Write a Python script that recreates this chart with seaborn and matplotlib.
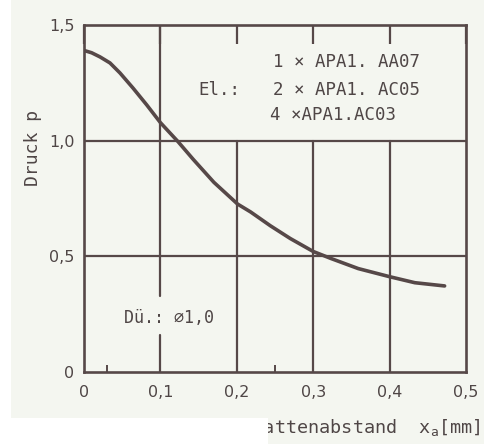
import matplotlib
matplotlib.use("Agg")
import matplotlib.pyplot as plt
import seaborn as sns
import pandas as pd
from matplotlib.patches import Rectangle

# Data
abstand = [0.0, 0.01, 0.021, 0.034, 0.047, 0.064, 0.082, 0.1, 0.123, 0.143, 0.170,
           0.201, 0.218, 0.244, 0.270, 0.3, 0.323, 0.359, 0.4, 0.433, 0.472]
druck = [1.39, 1.38, 1.362, 1.336, 1.293, 1.228, 1.155, 1.078, 0.996, 0.919, 0.820,
         0.726, 0.692, 0.632, 0.577, 0.521, 0.491, 0.447, 0.412, 0.386, 0.372]
x_ticks = [0, 0.1, 0.2, 0.3, 0.4, 0.5]
x_ticklabels = ["0", "0,1", "0,2", "0,3", "0,4", "0,5"]
y_ticks = [0, 0.5, 1.0, 1.5]
y_ticklabels = ["0", "0,5", "1,0", "1,5"]

sns.set_theme(style="ticks")
plt.rcParams['font.family'] = ['DejaVu Sans']
mono = ['DejaVu Sans Mono', 'DejaVu Sans']

bg = "#f4f6f0"
ink = "#564848"
txt = "#4f4646"

fig = plt.figure(figsize=(4.85, 4.44), dpi=100, facecolor=bg)
ax = fig.add_axes([84/485, 1-372/444, 382/485, 347/444])
ax.set_facecolor(bg)

df = pd.DataFrame({"x": abstand, "p": druck})
sns.lineplot(data=df, x="x", y="p", ax=ax, color=ink, lw=2.6, zorder=4)

ax.set_xlim(0, 0.5)
ax.set_ylim(0, 1.5)
ax.set_xticks(x_ticks)
ax.set_xticklabels(x_ticklabels)
ax.set_yticks(y_ticks)
ax.set_yticklabels(y_ticklabels)
ax.set_xticks([0.03, 0.25], minor=True)
ax.tick_params(axis="x", which="major", top=True, bottom=False, direction="in",
               length=14, width=1.6, color=ink, labelsize=11.5, labelcolor=txt, pad=9)
ax.tick_params(axis="x", which="minor", bottom=True, direction="in", length=5, width=1.4, color=ink)
ax.tick_params(axis="y", which="major", left=False, length=0, labelsize=11.5, labelcolor=txt, pad=7)

for s in ax.spines.values():
    s.set_color(ink)
    s.set_linewidth(1.9)

# grid
for yv in [0.5, 1.0]:
    ax.axhline(yv, color=ink, lw=1.6, zorder=2)
ax.axvline(0.1, ymin=0, ymax=0.16/1.5, color=ink, lw=1.6, zorder=2)
ax.axvline(0.1, ymin=0.33/1.5, ymax=1, color=ink, lw=1.6, zorder=2)
for xv in [0.2, 0.3, 0.4]:
    ax.axvline(xv, ymin=0, ymax=1.0/1.5, color=ink, lw=1.6, zorder=2)

ax.set_xlabel("")
ax.set_ylabel("Druck p", fontsize=13, color=txt, family=mono)
ax.yaxis.set_label_coords(-0.11, 0.645)

fs = 12.5
ax.text(0.247, 1.34, "1 × APA1. AA07", fontsize=fs, color=txt, va="center", ha="left", family=mono)
ax.text(0.15, 1.22, "El.:", fontsize=fs, color=txt, va="center", ha="left", family=mono)
ax.text(0.247, 1.22, "2 × APA1. AC05", fontsize=fs, color=txt, va="center", ha="left", family=mono)
ax.text(0.243, 1.11, "4 ×APA1.AC03", fontsize=fs, color=txt, va="center", ha="left", family=mono)
ax.text(0.052, 0.235, "Dü.: ⌀1,0", fontsize=12, color=txt, va="center", ha="left", family=mono)

fig.text(481/485, 1-433/444, r"Druckplattenabstand  x$_{\mathtt{a}}$[mm]", fontsize=13.3, color=txt,
         ha="right", va="baseline", family=mono)

# scan artefacts: white patches
fig.patches.append(Rectangle((0, 0), 268/485, 26/444, transform=fig.transFigure,
                             facecolor="white", edgecolor="none", zorder=10))
fig.patches.append(Rectangle((0, 0), 11/485, 1, transform=fig.transFigure,
                             facecolor="white", edgecolor="none", zorder=10))

fig.savefig("out.png", dpi=100, facecolor=bg)
